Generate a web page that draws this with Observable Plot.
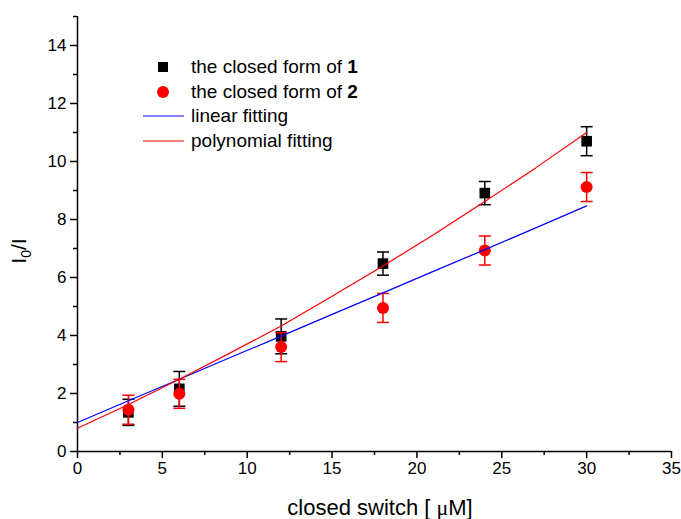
<!DOCTYPE html>
<html>
<head>
<meta charset="utf-8">
<script src="https://cdn.jsdelivr.net/npm/d3@7"></script>
<script src="https://cdn.jsdelivr.net/npm/@observablehq/plot@0.6"></script>
<style>
  html, body { margin: 0; padding: 0; background: #fff; }
  #wrap { position: relative; width: 681px; height: 519px; font-family: "Liberation Sans", Arial, sans-serif; }
  #legend { position: absolute; left: 140px; top: 55px; font-size: 19px; color: #000; line-height: 24.5px; }
  #legend .row { display: flex; align-items: center; height: 24.5px; }
  #legend .sym { width: 46px; height: 24px; position: relative; margin-right: 5px; }
  #legend svg { display: block; }
</style>
</head>
<body>
<div id="wrap"></div>
<script>
// ---- data ----
const conc = [3, 6, 12, 18, 24, 30];                 // closed switch [µM]
const form1 = [1.35, 2.16, 3.97, 6.48, 8.91, 10.70]; // closed form of 1
const err1  = [0.45, 0.6, 0.6, 0.4, 0.4, 0.5];
const form2 = [1.44, 1.99, 3.60, 4.95, 6.93, 9.12];  // closed form of 2
const err2  = [0.5, 0.5, 0.5, 0.5, 0.5, 0.5];

const fitX   = [0, 3, 6, 9, 12, 15, 18, 21, 24, 27, 30];
const linFit = [1.00, 1.75, 2.49, 3.24, 3.98, 4.73, 5.47, 6.22, 6.96, 7.71, 8.47];
const polFit = [0.80, 1.62, 2.49, 3.40, 4.33, 5.35, 6.40, 7.48, 8.62, 9.78, 11.00];

const xTicks = [0, 5, 10, 15, 20, 25, 30, 35];
const xMinor = [2.5, 7.5, 12.5, 17.5, 22.5, 27.5, 32.5];
const yTicks = [0, 2, 4, 6, 8, 10, 12, 14];
const yMinor = [1, 3, 5, 7, 9, 11, 13, 15];

const legendLabels = ["the closed form of ", "the closed form of ", "linear fitting", "polynomial fitting"];
const legendBold = ["1", "2", "", ""];

// ---- tables ----
const s1 = conc.map((x, i) => ({x, y: form1[i], e: err1[i]}));
const s2 = conc.map((x, i) => ({x, y: form2[i], e: err2[i]}));
const lin = fitX.map((x, i) => ({x, y: linFit[i]}));
const pol = fitX.map((x, i) => ({x, y: polFit[i]}));

const cap = { draw(ctx, size) { const w = Math.sqrt(size / Math.PI); ctx.moveTo(-w, 0); ctx.lineTo(w, 0); } };

function errMarks(data, color) {
  return [
    Plot.ruleX(data, {x: "x", y1: d => d.y - d.e, y2: d => d.y + d.e, stroke: color, strokeWidth: 1.5}),
    Plot.dot(data, {x: "x", y: d => d.y + d.e, symbol: cap, r: 6, stroke: color, strokeWidth: 1.5, fill: "none"}),
    Plot.dot(data, {x: "x", y: d => d.y - d.e, symbol: cap, r: 6, stroke: color, strokeWidth: 1.5, fill: "none"})
  ];
}

const chart = Plot.plot({
  width: 681,
  height: 519,
  marginLeft: 77,
  marginRight: 10,
  marginTop: 16,
  marginBottom: 68,
  style: {fontFamily: "'Liberation Sans', Arial, sans-serif", background: "#fff", color: "#000"},
  x: {domain: [0, 35]},
  y: {domain: [0, 15]},
  marks: [
    Plot.axisX(xMinor, {tickSize: 4, fill: "none", strokeWidth: 1.5}),
    Plot.axisX(xTicks, {tickSize: 7, tickPadding: 3, fontSize: 17, label: null, strokeWidth: 1.5}),
    Plot.axisY(yMinor, {tickSize: 4, fill: "none", strokeWidth: 1.5}),
    Plot.axisY(yTicks, {tickSize: 7, tickPadding: 4, fontSize: 17, label: null, strokeWidth: 1.5}),
    Plot.ruleY([0], {strokeWidth: 1.5}),
    Plot.ruleX([0], {strokeWidth: 1.5}),
    ...errMarks(s1, "#000"),
    Plot.dot(s1, {x: "x", y: "y", symbol: "square", r: 6, fill: "#000"}),
    ...errMarks(s2, "#ff0000"),
    Plot.dot(s2, {x: "x", y: "y", symbol: "circle", r: 6, fill: "#ff0000"}),
    Plot.line(lin, {x: "x", y: "y", stroke: "#0000ff", strokeWidth: 1.2}),
    Plot.line(pol, {x: "x", y: "y", stroke: "#ff0000", strokeWidth: 1.2})
  ]
});

document.getElementById("wrap").appendChild(chart);

// axis titles (with subscript and symbol-font mu)
const svg = d3.select(chart);
const xt = svg.append("text")
  .attr("x", 380).attr("y", 515)
  .attr("text-anchor", "middle")
  .attr("font-size", 22)
  .attr("font-family", "'Liberation Sans', Arial, sans-serif")
  .attr("fill", "#000");
xt.append("tspan").text("closed switch [ ");
xt.append("tspan").attr("font-family", "'Liberation Serif', 'DejaVu Serif', serif").text("μ");
xt.append("tspan").text("M]");

const yt = svg.append("text")
  .attr("transform", "translate(26,251) rotate(-90)")
  .attr("text-anchor", "middle")
  .attr("font-size", 21)
  .attr("font-family", "'Liberation Sans', Arial, sans-serif")
  .attr("fill", "#000");
yt.append("tspan").text("I");
yt.append("tspan").attr("font-size", 14).attr("dy", 5).text("0");
yt.append("tspan").attr("dy", -5).text("/I");

// legend
const legend = d3.select("#wrap").append("div").attr("id", "legend");
const syms = [
  {type: "square", color: "#000"},
  {type: "circle", color: "#ff0000"},
  {type: "line", color: "#0000ff"},
  {type: "line", color: "#ff0000"}
];
legendLabels.forEach((lab, i) => {
  const row = legend.append("div").attr("class", "row");
  const s = row.append("div").attr("class", "sym").append("svg").attr("width", 46).attr("height", 24);
  const sy = syms[i];
  if (sy.type === "square") s.append("rect").attr("x", 18).attr("y", 7).attr("width", 10).attr("height", 10).attr("fill", sy.color);
  else if (sy.type === "circle") s.append("circle").attr("cx", 23).attr("cy", 12).attr("r", 6).attr("fill", sy.color);
  else s.append("line").attr("x1", 3).attr("x2", 44).attr("y1", 12).attr("y2", 12).attr("stroke", sy.color).attr("stroke-width", 1.2);
  const t = row.append("span").text(lab);
  if (legendBold[i]) t.append("b").text(legendBold[i]);
});
</script>
</body>
</html>
